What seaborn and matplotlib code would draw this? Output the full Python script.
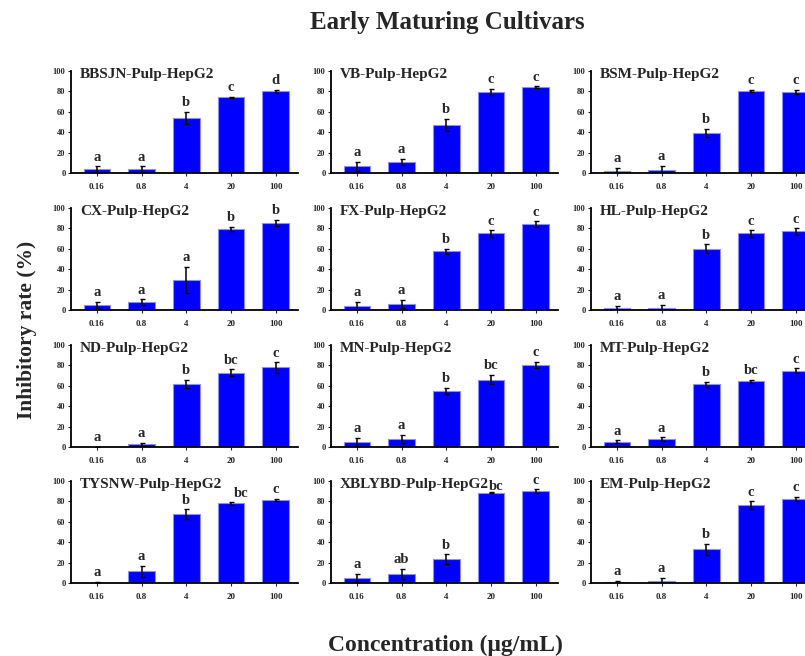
import matplotlib
matplotlib.use("Agg")
import matplotlib.pyplot as plt
import seaborn as sns
import pandas as pd

sns.set_style("ticks")
plt.rcParams['font.family'] = ['Liberation Serif', 'DejaVu Serif']
plt.rcParams['font.weight'] = 'bold'

concentrations = ["0.16", "0.8", "4", "20", "100"]

panel_names = [
    "BBSJN-Pulp-HepG2", "VB-Pulp-HepG2", "BSM-Pulp-HepG2",
    "CX-Pulp-HepG2", "FX-Pulp-HepG2", "HL-Pulp-HepG2",
    "ND-Pulp-HepG2", "MN-Pulp-HepG2", "MT-Pulp-HepG2",
    "TYSNW-Pulp-HepG2", "XBLYBD-Pulp-HepG2", "EM-Pulp-HepG2",
]

bbsjn_mean = [3.5, 3.5, 54.0, 74.5, 80.0]
bbsjn_err = [3.0, 3.0, 6.0, 0.5, 1.5]
bbsjn_sig = ["a", "a", "b", "c", "d"]

vb_mean = [6.6, 10.8, 47.0, 79.7, 84.0]
vb_err = [4.5, 3.0, 6.0, 3.0, 1.0]
vb_sig = ["a", "a", "b", "c", "c"]

bsm_mean = [1.8, 3.3, 39.3, 80.3, 79.7]
bsm_err = [3.0, 4.0, 4.0, 1.0, 2.0]
bsm_sig = ["a", "a", "b", "c", "c"]

cx_mean = [4.9, 7.5, 29.5, 79.7, 85.6]
cx_err = [3.0, 3.0, 12.8, 2.0, 3.0]
cx_sig = ["a", "a", "a", "b", "b"]

fx_mean = [4.3, 5.9, 57.4, 75.0, 84.3]
fx_err = [3.5, 4.0, 2.5, 3.0, 2.5]
fx_sig = ["a", "a", "b", "c", "c"]

hl_mean = [1.6, 2.3, 60.0, 75.0, 77.0]
hl_err = [2.5, 3.0, 4.5, 3.0, 3.0]
hl_sig = ["a", "a", "b", "c", "c"]

nd_mean = [0.0, 2.6, 62.0, 73.0, 78.0]
nd_err = [0.0, 1.5, 4.0, 3.0, 5.0]
nd_sig = ["a", "a", "b", "bc", "c"]

mn_mean = [5.0, 8.0, 55.0, 66.0, 80.6]
mn_err = [4.0, 4.0, 3.0, 4.5, 3.0]
mn_sig = ["a", "a", "b", "bc", "c"]

mt_mean = [5.0, 7.4, 61.3, 64.5, 74.8]
mt_err = [1.5, 2.0, 2.5, 1.5, 2.5]
mt_sig = ["a", "a", "b", "bc", "c"]

tysnw_mean = [0.0, 11.4, 67.7, 78.0, 81.4]
tysnw_err = [1.0, 5.5, 4.5, 1.5, 1.0]
tysnw_sig = ["a", "a", "b", "bc", "c"]

xblybd_mean = [4.9, 8.9, 23.6, 88.5, 90.0]
xblybd_err = [4.0, 5.0, 4.5, 0.5, 2.0]
xblybd_sig = ["a", "ab", "b", "bc", "c"]

em_mean = [0.7, 2.0, 33.2, 76.5, 82.7]
em_err = [1.5, 3.0, 5.5, 3.5, 2.0]
em_sig = ["a", "a", "b", "c", "c"]

means = [bbsjn_mean, vb_mean, bsm_mean, cx_mean, fx_mean, hl_mean,
         nd_mean, mn_mean, mt_mean, tysnw_mean, xblybd_mean, em_mean]
errs = [bbsjn_err, vb_err, bsm_err, cx_err, fx_err, hl_err,
        nd_err, mn_err, mt_err, tysnw_err, xblybd_err, em_err]
sigs = [bbsjn_sig, vb_sig, bsm_sig, cx_sig, fx_sig, hl_sig,
        nd_sig, mn_sig, mt_sig, tysnw_sig, xblybd_sig, em_sig]

# small nudges for letters that sit next to long panel titles (panel, bar) -> (dx, dy)
nudges = {(9, 3): (0.22, -1.0), (10, 3): (0.12, -3.0)}

W, H = 805, 656
fig = plt.figure(figsize=(W / 100, H / 100), dpi=100)

col_left = [71, 331, 591]
ax_w = 227
row_bottom = [173, 310, 447, 583]
ax_h = 102

for i in range(12):
    r, c = divmod(i, 3)
    ax = fig.add_axes([col_left[c] / W, 1 - row_bottom[r] / H, ax_w / W, ax_h / H])
    df = pd.DataFrame({"conc": concentrations, "rate": means[i]})
    sns.barplot(data=df, x="conc", y="rate", order=concentrations, ax=ax,
                color="#0000FF", saturation=1, width=0.6,
                edgecolor="#8C8CFF", linewidth=0.8, errorbar=None)
    xs = list(range(len(concentrations)))
    ax.errorbar(xs, means[i], yerr=errs[i], fmt="none", ecolor="black",
                elinewidth=1.1, capsize=1.8, capthick=1.0, zorder=5)
    for j, (x, m, e, s) in enumerate(zip(xs, means[i], errs[i], sigs[i])):
        dx, dy = nudges.get((i, j), (0.0, 0.0))
        ax.text(x + dx, m + e + 5.5 + dy, s, ha="center", va="baseline",
                fontsize=10.5, fontweight="bold", family="Liberation Serif")
    ax.set_xlim(-0.58, 4.5)
    ax.set_ylim(0, 100)
    ax.set_yticks([0, 20, 40, 60, 80, 100])
    ax.set_xlabel("")
    ax.set_ylabel("")
    for sp in ["top", "right"]:
        ax.spines[sp].set_visible(False)
    for sp in ["left", "bottom"]:
        ax.spines[sp].set_linewidth(1.3)
        ax.spines[sp].set_color("black")
    ax.tick_params(axis="both", labelsize=6, length=2, width=0.8, pad=2)
    ax.tick_params(axis="x", labelsize=6.5, pad=5)
    for lab in ax.get_xticklabels() + ax.get_yticklabels():
        lab.set_fontweight("bold")
    ax.text(0.04, 0.97, panel_names[i], transform=ax.transAxes, ha="left",
            va="center", fontsize=11, fontweight="bold", family="Liberation Serif")

fig.text(447 / W, 1 - 22 / H, "Early Maturing Cultivars", ha="center", va="center",
         fontsize=18, fontweight="bold", family="Liberation Serif")
fig.text(27 / W, 1 - 330 / H, "Inhibitory rate (%)", ha="center", va="center",
         rotation=90, fontsize=15.5, fontweight="bold", family="Liberation Serif")
fig.text(445 / W, 1 - 645 / H, "Concentration (μg/mL)", ha="center", va="center",
         fontsize=17, fontweight="bold", family=["Liberation Serif", "DejaVu Serif"])

fig.savefig("out.png", dpi=100)
